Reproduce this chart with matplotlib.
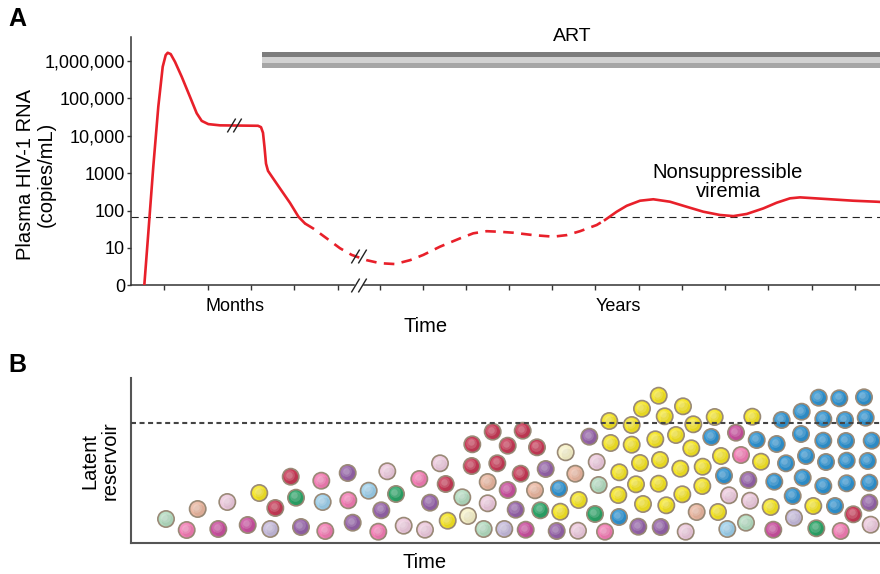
import matplotlib.pyplot as plt
import numpy as np
from matplotlib.patches import Rectangle
from matplotlib.path import Path

plt.rcParams['font.family'] = ['Liberation Sans', 'DejaVu Sans']

# ---- panel A: plasma HIV-1 RNA (copies/mL) over time ----
acute_t = [13.3, 17.3, 22.3, 27.3, 31.7, 34.7, 36.7, 39.7, 44, 50.7, 59, 65.7, 70.7,
           77.3, 89, 127, 130, 132, 133.5, 135, 137, 141, 149, 159, 167.5, 174]
acute_v = [1, 25, 1500, 60000, 7.0e5, 1.44e6, 1.66e6, 1.53e6, 9.5e5, 3.8e5, 1.1e5, 40000,
           25000, 20500, 19000, 18500, 17000, 12000, 5000, 1800, 1150, 800, 390, 160, 68, 45]
suppressed_t = [174, 182.3, 195.7, 209, 220.7, 235.7, 249, 264, 279, 292.3, 309, 329, 342.3,
                355.7, 369, 382.3, 402.3, 422.3, 435.7, 449, 465.7, 474]
suppressed_v = [45, 33, 18, 9.8, 6.5, 4.7, 3.9, 3.7, 4.7, 6.5, 10.8, 18, 24.6,
                28, 27, 25.5, 22, 20, 22, 28, 41, 56]
rebound_t = [474, 485.7, 495.7, 509, 522.3, 539, 555.7, 572.3, 589, 602.3, 615.7, 632.3,
             645.7, 659, 669, 695.7, 722.3, 745.7, 749]
rebound_v = [56, 93, 134, 183, 200, 172, 126, 93, 76, 71, 81, 114,
             162, 212, 225, 203, 183, 172, 170]
detect_limit = 68
art_start = 131
ytick_vals = [1, 10, 100, 1e3, 1e4, 1e5, 1e6]
ytick_labels = ['0', '10', '100', '1000', '10,000', '100,000', '1,000,000']
xtick_vals = [33.3, 76.6, 119.9, 163.2, 206.5, 249, 292.3, 335.3, 378.3, 421.3, 464.3,
              507.7, 551, 594, 637.3, 680.7, 723.7]

# ---- panel B: latent reservoir cells (time, stack height, clone colour) ----
cell_t = [35, 55.7, 66.7, 87.3, 96.3, 128.3, 116.7, 139.3, 144.3, 159.7, 165, 170, 190.3,
          191.7, 194.3, 216.7, 217.3, 221.7, 237.7, 250.3, 247.3, 256.3, 265, 272.7, 288.3,
          299, 294, 309, 314.7, 316.7, 331.3, 337, 341.3, 340.7, 361.7, 366.3, 376.7, 391.7,
          389.7, 406, 356.7, 356.7, 352.7, 376.7, 384.7, 373.3, 394.7, 414.7, 404, 409.3,
          434.7, 428, 429.3, 425.7, 444.3, 447.7, 447, 458.3, 465.7, 467.7, 464, 474, 478.3,
          479.7, 488.3, 487.3, 488, 500.7, 500.7, 511, 527.7, 509, 505, 512, 507.3, 533.7,
          552, 524.3, 529, 527.7, 535.3, 529.7, 545, 549.3, 551.3, 554.7, 562.3, 560.3, 571.7,
          571.3, 565.7, 583.7, 580.3, 590, 593, 598, 587, 596.3, 621.3, 605, 610, 617.3, 619,
          615, 625.7, 630, 643.3, 639.7, 642.3, 645.7, 650.7, 655, 661.7, 663, 670.7, 670,
          675, 671.7, 682.3, 685.3, 687.7, 692.3, 692.3, 695, 692.3, 704, 709.7, 708.3, 714,
          715, 715.7, 715.7, 722.3, 733, 734.7, 740.7, 736.7, 738.3, 738.3, 739.7]
cell_h = [24.3, 13.3, 34.3, 14.3, 41.3, 50.3, 18.3, 14.3, 35.3, 66.6, 45.6, 16.3, 62.6,
          41.3, 12.3, 70.3, 43, 20.6, 52.6, 33, 11.6, 72, 49.3, 17.6, 64.3,
          40.6, 13.6, 80, 59.3, 22.6, 46, 27.3, 99, 77.3, 111.6, 80, 97.6, 112.6,
          69.6, 96, 61.3, 40, 14.3, 53.3, 33.6, 14.3, 13.6, 74.3, 53, 33,
          91, 54.6, 31.6, 12.3, 69.6, 43.3, 12.6, 106.6, 81.3, 58.3, 29.3, 11.6, 122.3,
          100.3, 71, 48.3, 26.3, 118.3, 98.6, 134.6, 147.6, 80.3, 59, 39.3, 16.6, 127,
          137, 104, 83.3, 59.6, 38, 16.3, 108.3, 74.6, 49, 11.6, 119, 95, 76.6,
          57.3, 31.3, 126.3, 106.3, 87.3, 67.6, 48, 31.3, 14.3, 126.6, 110.6, 88.3, 63.3, 42.6,
          20.6, 103.3, 81.6, 61.6, 36.3, 13.6, 99.3, 123.3, 80, 47.3, 25.6, 131.6, 109.3,
          87.3, 65.6, 37.3, 15, 145.6, 124.3, 102.6, 81.3, 57.3, 37.3, 12.3, 145, 123.3,
          102.3, 82.6, 60, 29, 146, 125.6, 102.6, 82.3, 60.6, 40.6, 18.6]
cell_clone = ['mint', 'pink', 'peach', 'magenta', 'lightpink', 'yellow', 'magenta', 'lavender',
              'crimson', 'crimson', 'green', 'purple', 'pink', 'lightblue', 'pink', 'purple',
              'pink', 'purple', 'lightblue', 'purple', 'pink', 'lightpink', 'green', 'lightpink',
              'pink', 'purple', 'lightpink', 'lightpink', 'crimson', 'yellow', 'mint', 'cream',
              'crimson', 'crimson', 'crimson', 'crimson', 'crimson', 'crimson', 'crimson',
              'crimson', 'peach', 'lightpink', 'mint', 'magenta', 'purple', 'lavender', 'magenta',
              'purple', 'peach', 'green', 'cream', 'blue', 'yellow', 'purple', 'peach', 'yellow',
              'lightpink', 'purple', 'lightpink', 'mint', 'green', 'pink', 'yellow', 'yellow',
              'yellow', 'yellow', 'blue', 'yellow', 'yellow', 'yellow', 'yellow', 'yellow',
              'yellow', 'yellow', 'purple', 'yellow', 'yellow', 'yellow', 'yellow', 'yellow',
              'yellow', 'purple', 'yellow', 'yellow', 'yellow', 'lightpink', 'yellow', 'yellow',
              'yellow', 'yellow', 'peach', 'yellow', 'blue', 'yellow', 'blue', 'lightpink',
              'yellow', 'lightblue', 'yellow', 'magenta', 'pink', 'purple', 'lightpink', 'mint',
              'blue', 'yellow', 'blue', 'yellow', 'magenta', 'blue', 'blue', 'blue', 'blue',
              'lavender', 'blue', 'blue', 'blue', 'blue', 'yellow', 'green', 'blue', 'blue',
              'blue', 'blue', 'blue', 'blue', 'pink', 'blue', 'blue', 'blue', 'blue', 'blue',
              'crimson', 'blue', 'blue', 'blue', 'blue', 'blue', 'purple', 'lightpink']
reservoir_limit = 120.6

clone_colors = {'mint': '#b3dbc0', 'pink': '#f27db4', 'peach': '#e9b6a0', 'magenta': '#c9519f',
                'lightpink': '#ecc9dd', 'yellow': '#f4e425', 'lavender': '#c5badb',
                'crimson': '#c63a57', 'green': '#2ca468', 'purple': '#9563a9',
                'lightblue': '#9dcfea', 'blue': '#2f93d1', 'cream': '#f6f1c8'}

fig = plt.figure(figsize=(8.8, 5.74), dpi=100)

# ---------------- panel A ----------------
ax = fig.add_axes([131 / 880, 288.7 / 574, 749 / 880, 248.6 / 574])
ax.set_yscale('log')
ax.set_xlim(0, 749)
ax.set_ylim(1, 10 ** 6.65)

red = '#e8202a'
ax.plot(acute_t, acute_v, color=red, lw=1.9, solid_capstyle='round', zorder=3)
ax.plot(suppressed_t, suppressed_v, color=red, lw=1.9, dashes=(4, 2.8), zorder=3)
ax.plot(rebound_t, rebound_v, color=red, lw=1.9, zorder=3)
ax.axhline(detect_limit, color='#222222', lw=0.8, dashes=(6.5, 4.5), zorder=2)

# ART bar (three grey stripes)
xt = ax.get_xaxis_transform()
ax.add_patch(Rectangle((art_start, 0.9185), 749 - art_start, 0.021, transform=xt,
                       color='#7d7d7d', lw=0, clip_on=False))
ax.add_patch(Rectangle((art_start, 0.8955), 749 - art_start, 0.023, transform=xt,
                       color='#d2d2d2', lw=0, clip_on=False))
ax.add_patch(Rectangle((art_start, 0.875), 749 - art_start, 0.0205, transform=xt,
                       color='#a6a6a6', lw=0, clip_on=False))
ax.text(441, 1.0, 'ART', transform=xt, ha='center', va='center', fontsize=14)

ax.text(597, 580, 'Nonsuppressible\nviremia', ha='center', va='center', fontsize=14.5,
        linespacing=1.05)

# axis breaks
slash = Path([(-0.3, -0.5), (0.3, 0.5)], [Path.MOVETO, Path.LINETO])
ax.plot([99.5, 106], [19000, 19000], ls='none', marker=slash, ms=10, mfc='none',
        mec='#222222', mew=1.0, zorder=4)
ax.plot([224, 230.5], [5.9, 5.9], ls='none', marker=slash, ms=10, mfc='none',
        mec='#222222', mew=1.0, zorder=4)
ax.plot([225, 229.5], [1, 1], color='white', lw=2.5, clip_on=False, zorder=3.5)
ax.plot([224, 230.5], [1, 1], ls='none', marker=slash, ms=10, mfc='none',
        mec='#222222', mew=1.0, zorder=4, clip_on=False)

for s in ['top', 'right']:
    ax.spines[s].set_visible(False)
for s in ['left', 'bottom']:
    ax.spines[s].set_color('#333333')
    ax.spines[s].set_linewidth(1.1)
ax.set_yticks(ytick_vals)
ax.set_yticklabels(ytick_labels)
ax.yaxis.set_minor_locator(plt.NullLocator())
ax.set_xticks(xtick_vals)
ax.set_xticklabels([])
ax.tick_params(axis='y', length=3.2, width=1.0, pad=1, labelsize=13, color='#333333')
ax.tick_params(axis='x', length=3.8, width=1.0, color='#333333')

ax.text(104, -0.085, 'Months', transform=ax.get_xaxis_transform(), ha='center', va='center',
        fontsize=13)
ax.text(487, -0.085, 'Years', transform=ax.get_xaxis_transform(), ha='center', va='center',
        fontsize=13)
ax.text(294.5, -0.165, 'Time', transform=ax.get_xaxis_transform(), ha='center', va='center',
        fontsize=14.5)

fig.text(36 / 880, 1 - 174 / 574, 'Plasma HIV-1 RNA\n(copies/mL)', rotation=90,
         ha='center', va='center', fontsize=14.5, linespacing=1.1)
fig.text(17 / 880, 1 - 19 / 574, 'A', ha='center', va='center', fontsize=18,
         fontweight='bold')

# ---------------- panel B ----------------
bx = fig.add_axes([131 / 880, 30.7 / 574, 749 / 880, 165.3 / 574])
bx.set_xlim(0, 749)
bx.set_ylim(0, 165.3)
bx.axhline(reservoir_limit, color='#444444', lw=1.5, dashes=(2.4, 1.7), zorder=6)

cols = [clone_colors[c] for c in cell_clone]
ct = np.array(cell_t)
ch = np.array(cell_h)
bx.scatter(ct, ch, s=138, c=cols, edgecolors='#9a8a77', linewidths=1.2, zorder=3,
           clip_on=False)
# soft shading: darker lower-right, lighter upper-left
bx.scatter(ct + 1.2, ch - 1.4, s=70, c='black', alpha=0.06, lw=0, zorder=4, clip_on=False)
bx.scatter(ct - 1.5, ch + 1.8, s=60, c='white', alpha=0.16, lw=0, zorder=5, clip_on=False)
bx.scatter(ct - 1.8, ch + 2.2, s=22, c='white', alpha=0.18, lw=0, zorder=5, clip_on=False)

bx.set_xticks([])
bx.set_yticks([])
for s in ['top', 'right']:
    bx.spines[s].set_visible(False)
for s in ['left', 'bottom']:
    bx.spines[s].set_color('#555555')
    bx.spines[s].set_linewidth(1.5)

fig.text(425 / 880, 1 - 563 / 574, 'Time', ha='center', va='center', fontsize=14.5)
fig.text(100 / 880, 1 - 461 / 574, 'Latent\nreservoir', rotation=90, ha='center',
         va='center', fontsize=14.5, linespacing=1.1)
fig.text(17 / 880, 1 - 365 / 574, 'B', ha='center', va='center', fontsize=18,
         fontweight='bold')

fig.savefig('out.png', dpi=100)
